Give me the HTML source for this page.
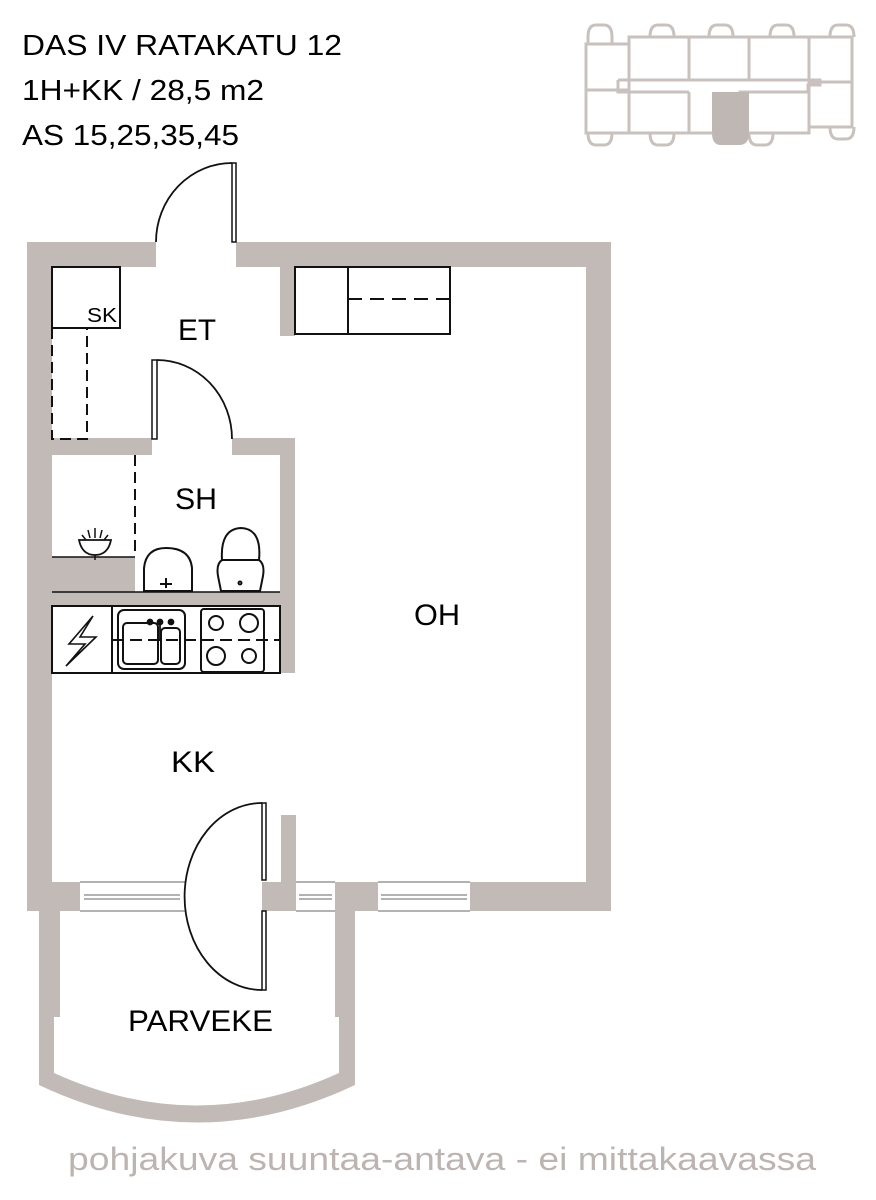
<!DOCTYPE html>
<html><head><meta charset="utf-8"><style>
html,body{margin:0;padding:0;background:#fff;}
svg{display:block;}
text{font-family:"Liberation Sans",sans-serif;}
</style></head><body>
<svg width="876" height="1200" viewBox="0 0 876 1200" xmlns="http://www.w3.org/2000/svg">
<g fill="#000">
<text x="22" y="55" font-size="29" textLength="320" lengthAdjust="spacingAndGlyphs">DAS IV RATAKATU 12</text>
<text x="22" y="100" font-size="29" textLength="242" lengthAdjust="spacingAndGlyphs">1H+KK / 28,5 m2</text>
<text x="22" y="145" font-size="29" textLength="217" lengthAdjust="spacingAndGlyphs">AS 15,25,35,45</text>
</g>
<!-- locator map -->
<g fill="none" stroke="#c9c1bd" stroke-width="3">
<rect x="586" y="44" width="43" height="89"/>
<rect x="629" y="37" width="180" height="96"/>
<rect x="809" y="37" width="43" height="90"/>
<line x1="689" y1="37" x2="689" y2="80"/><line x1="749" y1="37" x2="749" y2="80"/>
<line x1="689" y1="92" x2="689" y2="133"/>
<line x1="586" y1="90" x2="629" y2="90"/><line x1="809" y1="82" x2="852" y2="82"/>
<path d="M618 80 H820 V85 H808 V92 H740 V108 H728 M618 80 V92 H689"/>
<path d="M588 44 V37 q0 -12 8 -12 h8 q8 0 8 12 V44 M650 37 q0 -12 8 -12 h8 q8 0 8 12 M709 37 q0 -12 8 -12 h8 q8 0 8 12 M770 37 q0 -12 8 -12 h8 q8 0 8 12 M830 37 q0 -12 8 -12 h8 q8 0 8 12"/>
<path d="M588 133 q0 12 8 12 h8 q8 0 8 -12 M650 133 q0 12 8 12 h8 q8 0 8 -12 M749 133 q0 12 8 12 h8 q8 0 8 -12 M830 127 q0 12 8 12 h8 q8 0 8 -12"/>
</g>
<path d="M712 92 H749 V133 q0 12 -10 12 h-18 q-9 0 -9 -12 Z" fill="#bfb7b3"/>

<!-- walls -->
<g fill="#c2bab6">
<rect x="27" y="242" width="129" height="25"/>
<rect x="236" y="242" width="375" height="25"/>
<rect x="27" y="242" width="25" height="669"/>
<rect x="586" y="242" width="25" height="669"/>
<rect x="280" y="267" width="15" height="69"/>
<rect x="52" y="438" width="100" height="17"/>
<rect x="232" y="438" width="63" height="17"/>
<rect x="280" y="438" width="15" height="235"/>
<rect x="52" y="557" width="83" height="35"/>
<rect x="52" y="592" width="243" height="14"/>
<rect x="27" y="882" width="53" height="29"/>
<rect x="262" y="882" width="34" height="29"/>
<rect x="281" y="815" width="15" height="67"/>
<rect x="335" y="882" width="43" height="29"/>
<rect x="470" y="882" width="141" height="29"/>
<!-- balcony -->
<path d="M39 911 H60 V1017 H54 V1073 Q197 1138 339 1073 V1017 H335 V911 H355 V1085 Q197 1160 39 1085 Z"/>
</g>
<g fill="none" stroke="#666" stroke-width="1">
<path d="M80 882 H185 M80 911 H185 M84 895 H180 M84 899 H180"/>
<path d="M296 882 H335 M296 911 H335 M299 895 H332 M299 899 H332"/>
<path d="M378 882 H470 M378 911 H470 M381 895 H467 M381 899 H467"/>
</g>
<!-- fixtures -->
<g fill="none" stroke="#111" stroke-width="2">
<rect x="52" y="267" width="68" height="61" fill="#fff"/>
<path d="M52 328 V439 H87 V328" stroke-dasharray="11,6"/>
<rect x="295" y="267" width="155" height="67" fill="#fff"/>
<line x1="348" y1="267" x2="348" y2="334"/>
<line x1="348" y1="299" x2="450" y2="299" stroke-dasharray="14,8"/>
<!-- entry door -->
<rect x="232" y="163" width="4" height="79" fill="#fff" stroke-width="1.5"/>
<path d="M156 242 A76 79 0 0 1 232 163" stroke-width="1.8"/>
<!-- SH door -->
<rect x="152" y="360" width="5" height="79" fill="#fff" stroke-width="1.5"/>
<path d="M157 360 A75 79 0 0 1 232 439" stroke-width="1.8"/>
<!-- SH -->
<line x1="135" y1="455" x2="135" y2="557" stroke-dasharray="11,6"/>
<line x1="52" y1="557" x2="135" y2="557" stroke-width="1.5"/>
<line x1="52" y1="592" x2="280" y2="592" stroke-width="1.5"/>
<path d="M79 540 H111 Q108 555 95 555 Q82 555 79 540 Z" stroke-width="1.8"/>
<path d="M95 555 V560 M95 528 V538 M88 530 L90 538 M102 530 L100 538 M82 535 L86 540 M108 535 L104 540" stroke-width="1.5"/>
<path d="M144 591 V568 Q146 548 166 548 Q190 548 192 568 V591 Z" stroke-width="2"/>
<path d="M160 584 H172 M166 578 V588" stroke-width="2"/>
<path d="M222 560 Q220 529 241 528 Q262 529 259 560 Z" stroke-width="2"/>
<path d="M222 560 Q216 564 218 576 L221 591 H260 L263 576 Q265 564 259 560" stroke-width="2"/>
<circle cx="240" cy="583" r="1.5"/>
<!-- kitchen -->
<rect x="52" y="606" width="228" height="67" fill="#fff"/>
<line x1="112" y1="606" x2="112" y2="673"/>
<rect x="118" y="610" width="67" height="59" rx="6"/>
<rect x="123" y="623" width="35" height="41" rx="4"/>
<rect x="161" y="628" width="19" height="36" rx="4"/>
<rect x="201" y="609" width="63" height="63" rx="3"/>
<circle cx="216" cy="623" r="7"/><circle cx="249" cy="623" r="9"/>
<circle cx="216" cy="656" r="9"/><circle cx="249" cy="656" r="7"/>
<line x1="112" y1="640" x2="280" y2="640" stroke-dasharray="12,6"/>
<path d="M93 616 L69 644 H85 L66 666 L96 637 H80 Z" stroke-width="1.6"/>
<!-- balcony door -->
<rect x="262" y="803" width="4" height="77" fill="#fff" stroke-width="1.5"/>
<rect x="262" y="911" width="4" height="79" fill="#fff" stroke-width="1.5"/>
<path d="M262 803 A77 93 0 0 0 262 990" stroke-width="1.8"/>
</g>
<g fill="#111" stroke="#111" stroke-width="1.8">
<circle cx="150" cy="622" r="2.5"/><circle cx="160" cy="622" r="2.5"/><circle cx="171" cy="622" r="2.5"/>
<line x1="160" y1="622" x2="160" y2="640"/>
</g>
<g fill="#000" font-size="30">
<text x="87" y="322" font-size="20" textLength="30" lengthAdjust="spacingAndGlyphs">SK</text>
<text x="178" y="340" textLength="38" lengthAdjust="spacingAndGlyphs">ET</text>
<text x="175" y="509" textLength="42" lengthAdjust="spacingAndGlyphs">SH</text>
<text x="414" y="625" textLength="46" lengthAdjust="spacingAndGlyphs">OH</text>
<text x="171" y="772" textLength="44" lengthAdjust="spacingAndGlyphs">KK</text>
<text x="128" y="1031" textLength="145" lengthAdjust="spacingAndGlyphs">PARVEKE</text>
</g>
<text x="68" y="1170" font-size="32" fill="#bcb4b1" textLength="748" lengthAdjust="spacingAndGlyphs">pohjakuva suuntaa-antava - ei mittakaavassa</text>
</svg>
</body></html>
